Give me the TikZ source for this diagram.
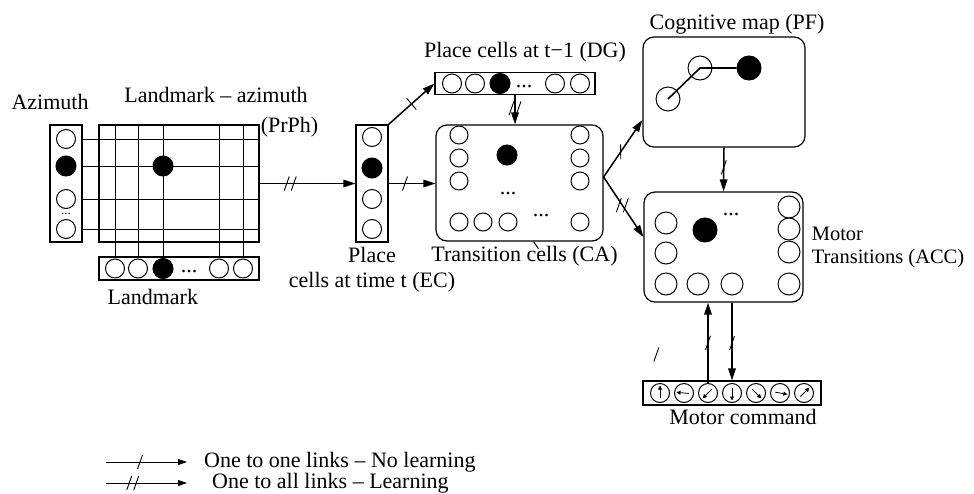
\documentclass[tikz,border=0pt]{standalone}
\usepackage{fontspec}
\setmainfont{Liberation Serif}
\usetikzlibrary{positioning, arrows.meta, calc}

\begin{document}
\begin{tikzpicture}[
  x=1pt, y=-1pt,
  font=\fontsize{22}{25}\selectfont,
  >={Triangle[length=12pt, width=7.5pt]},
  % --- Styles ---
  bar/.style={rectangle, draw, line width=1.2pt, inner sep=0pt},
  area/.style={bar, rounded corners=11pt},
  cell/.style={circle, draw, line width=1pt, inner sep=0pt, minimum size=#1},
  cell/.default=19pt,
  fired/.style={cell=#1, fill=black},
  fired/.default=20pt,
  wire/.style={line width=1pt},
  link/.style={->, line width=1.5pt},
  key/.style={-{Triangle[length=9pt, width=6pt]}, line width=0.8pt},
  dots/.style={inner sep=0pt},
  lbl/.style={inner sep=1pt},
  cut/.pic={\draw[-, line width=0.9pt] (-2.5pt,-7pt) -- (2.5pt,7pt);},
  cutcut/.pic={\draw[-, line width=0.9pt] (-6pt,-7pt) -- (-1pt,7pt) (1pt,-7pt) -- (6pt,7pt);},
]
\useasboundingbox (0,0) rectangle (974,493);

% === NODES ===
% 1. Azimuth and landmark inputs
\node[bar, minimum width=32pt, minimum height=117pt] (Az) at (66,183.5) {};
\foreach \y/\s [count=\i] in {139/cell, 166/fired, 199/cell, 229/cell}
  \node[\s] (az\i) at (66,\y) {};
\node[dots, font=\fontsize{13}{13}\selectfont] (azdots) at (66,214) {...};
\node[bar, minimum width=160pt, minimum height=117pt] (PrPh) at (179,183.5) {};
\node[bar, minimum width=160pt, minimum height=23pt] (LM) at (179,268.5) {};
\foreach \x/\s [count=\i] in {115/cell, 138/cell, 163/fired, 219/cell, 243/cell}
  \node[\s] (lm\i) at (\x,268.5) {};
\node[dots] (lmdots) at (189,272) {...};
% grid wiring
\foreach \i in {1,...,5}
  \draw[wire] (LM.north -| lm\i) -- (PrPh.north -| lm\i);
\foreach \i in {1,...,4}
  \draw[wire] (Az.east |- az\i) -- (PrPh.east |- az\i);
\node[fired] (pp) at (lm3 |- az2) {};

% 2. Place cells (EC) and (DG)
\node[bar, minimum width=32pt, minimum height=117pt] (EC) at (372,183.5) {};
\foreach \y/\s [count=\i] in {137/cell, 168/fired, 199/cell, 229/cell}
  \node[\s] (ec\i) at (372,\y) {};
\node[bar, minimum width=160pt, minimum height=22pt] (DG) at (515,83.5) {};
\foreach \x/\s [count=\i] in {452/cell, 475/cell, 500/fired, 555/cell, 580/cell}
  \node[\s] (dg\i) at (\x,83.5) {};
\node[dots] (dgdots) at (524,87) {...};

% 3. Transition cells (CA)
\node[area, minimum width=167pt, minimum height=116pt] (CA) at (519.5,183) {};
\foreach \x/\y [count=\i] in {459/135, 459/158, 459/181, 580/135, 580/158,
                              580/181, 459/222, 483/222, 508/222, 580/222}
  \node[cell=18pt] (ca\i) at (\x,\y) {};
\node[fired] (ca0) at (507,155) {};
\node[dots] (cadots1) at (508,194) {...};
\node[dots] (cadots2) at (541,216) {...};

% 4. Cognitive map (PF)
\node[area, minimum width=162pt, minimum height=110pt] (PF) at (724,92) {};
\node[cell=24pt] (pf1) at (668,99) {};
\node[cell=24pt] (pf2) at (700,68) {};
\node[fired=24pt] (pf3) at (749,68) {};
\draw[line width=1.6pt] (pf1.center) -- (pf2.center) -- (pf3);

% 5. Motor transitions (ACC)
\node[area, minimum width=159pt, minimum height=110pt] (ACC) at (723.5,247) {};
\foreach \x/\y [count=\i] in {666/223, 666/253, 666/284, 698/284, 732/284,
                              789/207, 789/229, 789/252, 789/284}
  \node[cell=22pt] (acc\i) at (\x,\y) {};
\node[fired=24pt] (acc0) at (705,230) {};
\node[dots] (accdots) at (731,215) {...};

% 6. Motor command
\node[bar, minimum width=178pt, minimum height=24pt] (MC) at (732,393) {};
\foreach \a [count=\i] in {90,175,225,270,315,350,45} {
  \node[cell] (mc\i) at (636+24*\i,393) {};
  \draw[-{Triangle[length=4pt, width=4pt]}, line width=0.8pt]
    ([shift={(\a+180:5pt)}]mc\i.center) -- ([shift={(\a:7.5pt)}]mc\i.center);
}

% Labels
\node[lbl, above=13pt of Az, xshift=-16pt] (azlbl) {Azimuth};
\node[lbl, above=20pt of PrPh, xshift=37pt] (pplbl) {Landmark -- azimuth};
\node[lbl, anchor=west] (ppname) at ([yshift=-3pt]PrPh.north east) {(PrPh)};
\node[lbl, below right=7pt and 8pt of LM.south west] (lmlbl) {Landmark};
\node[lbl, below=3pt of EC, align=center] (eclbl) {Place\\cells at time t (EC)};
\node[lbl, above=9pt of DG, xshift=10pt] (dglbl) {Place cells at t−1 (DG)};
\node[lbl, below=3pt of CA, xshift=5pt] (calbl) {Transition cells (CA)};
\node[lbl, above=1pt of PF, xshift=13pt] (pflbl) {Cognitive map (PF)};
\node[lbl, right=7pt of ACC, align=left, font=\fontsize{20.5}{23}\selectfont]
  (acclbl) {Motor\\Transitions (ACC)};
\node[lbl, below=2pt of MC, xshift=11pt] (mclbl) {Motor command};

% === ARROWS ===
\coordinate (fork) at ([yshift=6pt]CA.east);
\draw[link] (PrPh.east) -- pic[pos=0.32]{cutcut} (PrPh.east -| EC.west);
\draw[link] (EC.east) -- pic[pos=0.35]{cut} (EC.east -| CA.west);
\draw[link] (EC.north east) -- pic[pos=0.5, rotate=-120]{cut} (DG.west);
\draw[link] (DG.south) -- pic[pos=0.45]{cutcut} (DG.south |- CA.north);
\draw[link] (fork) -- pic[pos=0.44, rotate=20]{cut} ([yshift=-28pt]PF.west);
\draw[link] (fork) -- pic[pos=0.47]{cutcut} ([yshift=10pt]ACC.west);
\draw[link] (PF.south) -- pic[pos=0.45]{cut} (ACC.north);
\draw[link] (mc3.north) -- pic[pos=0.5]{cut} (mc3 |- ACC.south);
\draw[link] (ACC.south -| mc4) -- pic[pos=0.52]{cut} (mc4 |- MC.north);
\draw[wire] ([xshift=14pt]CA.south) -- ++(5pt,-7pt);
\pic at ([shift={(14pt,26pt)}]MC.north west) {cut};

% === LEGEND ===
\coordinate (k1a) at (106,462);
\coordinate (k1b) at (187,462);
\coordinate (k2a) at (106,483);
\coordinate (k2b) at (187,483);
\draw[key] (k1a) -- pic[pos=0.42]{cut} (k1b);
\draw[key] (k2a) -- pic[pos=0.33]{cutcut} (k2b);
\node[lbl, anchor=west] (k1) at ([xshift=16pt]k1b) {One to one links -- No learning};
\node[lbl, anchor=west] (k2) at ([xshift=24pt]k2b) {One to all links -- Learning};
\end{tikzpicture}
\end{document}
